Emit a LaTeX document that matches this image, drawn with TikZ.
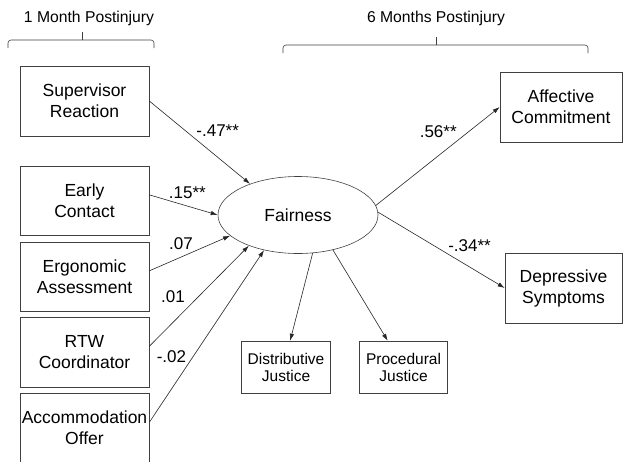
\documentclass[tikz,border=0pt]{standalone}
\usepackage{fontspec}
\setmainfont{Liberation Sans}
\usetikzlibrary{shapes}
\usetikzlibrary{positioning}
\usetikzlibrary{arrows.meta}

\begin{document}
\begin{tikzpicture}[
    x=1pt, y=-1pt,
    font=\fontsize{17.5}{21}\selectfont
]
\tikzset{
    varbox/.style = {rectangle, draw=black!75, line width=0.6pt, align=center, inner sep=1pt, minimum width=129pt, minimum height=70pt},
    smallbox/.style = {varbox, font=\fontsize{15.5}{17}\selectfont, minimum width=88.5pt, minimum height=52pt},
    latent/.style = {ellipse, draw=black!75, line width=0.6pt, inner sep=0pt, minimum width=160pt, minimum height=77pt},
    edgep/.style = {-{Latex[length=7pt,width=4.5pt]}, draw=black!85, line width=0.6pt},
    lbl/.style = {font=\fontsize{17}{20}\selectfont, inner sep=1.5pt},
    bracket/.style = {draw=black!75, line width=0.6pt, rounded corners=3pt}
}
\useasboundingbox (0,0) rectangle (623,461);
% time labels
\node[font=\fontsize{15.7}{18}\selectfont] at (89,18) (t1) {1 Month Postinjury};
\node[font=\fontsize{15.7}{18}\selectfont] at (436,18) (t6) {6 Months Postinjury};
\draw[bracket] (8,48) -- (8,40) -- (154,40) -- (154,48);
\draw[bracket] (82,40) -- (82,32);
\draw[bracket] (283,53) -- (283,45) -- (588,45) -- (588,53);
\draw[bracket] (436,45) -- (436,37);
% predictors
\node[varbox] at (84.5,101) (sup) {Supervisor\\Reaction};
\node[varbox, minimum height=69pt] at (84.5,200.5) (early) {Early\\Contact};
\node[varbox, minimum height=69pt] at (84.5,276.5) (ergo) {Ergonomic\\Assessment};
\node[varbox] at (84.5,352) (rtw) {RTW\\Coordinator};
\node[varbox] at (84.5,428) (acc) {Accommodation\\Offer};
% fairness and outcomes
\node[latent] at (298,215) (fair) {Fairness};
\node[varbox, minimum width=122pt] at (561,107) (aff) {Affective\\Commitment};
\node[varbox, minimum width=117pt] at (563.5,288) (dep) {Depressive\\Symptoms};
\node[smallbox] at (286,367) (dist) {Distributive\\Justice};
\node[smallbox] at (403.5,367) (proc) {Procedural\\Justice};
% paths
\draw[edgep] (sup.east) -- node[lbl, pos=0.45, anchor=south west] {-.47**} (fair.147);
\draw[edgep] (early.5) -- node[lbl, pos=0.26, anchor=south west] {.15**} (fair.180);
\draw[edgep] (ergo.5) -- node[lbl, pos=0.56, anchor=south east] {.07} (fair.197);
\draw[edgep] (rtw.5) -- node[lbl, pos=0.415, anchor=south east, xshift=-4pt] {.01} (fair.212);
\draw[edgep] (acc.5) -- node[lbl, pos=0.336, anchor=south east] {-.02} (fair.226);
\draw[edgep] (fair.7) -- node[lbl, pos=0.667, anchor=south east] {.56**} (aff.west);
\draw[edgep] (fair.2) -- node[lbl, pos=0.54, anchor=south west] {-.34**} (dep.west);
\draw[edgep] (fair.291) -- (dist.81);
\draw[edgep] (fair.315) -- (proc.121);
\end{tikzpicture}
\end{document}
